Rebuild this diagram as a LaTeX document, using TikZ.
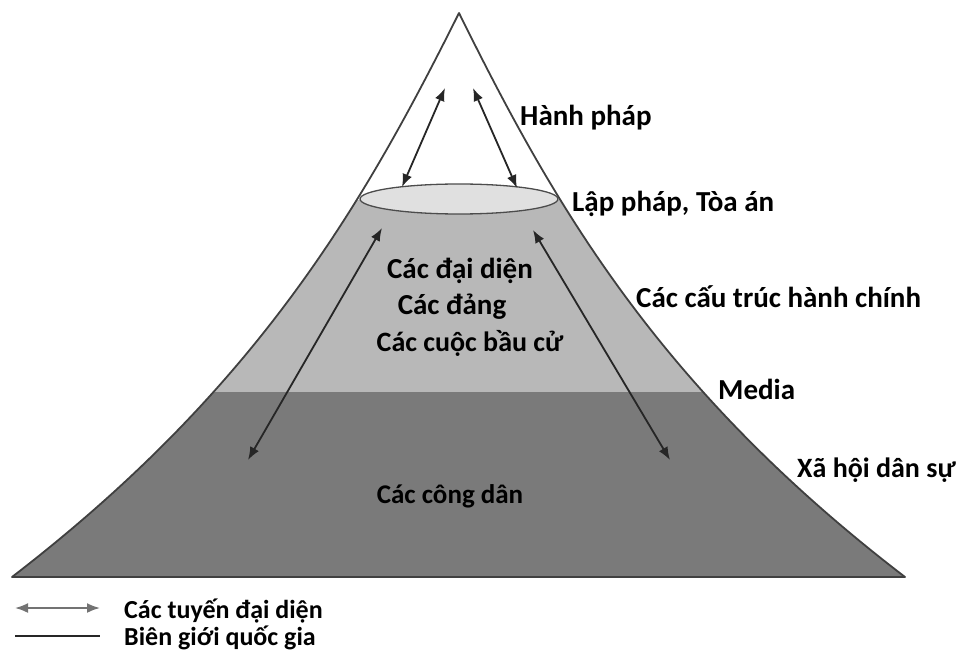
\documentclass[tikz,border=0pt]{standalone}
\usepackage{fontspec}
\setmainfont{Carlito}
\usetikzlibrary{arrows.meta}

\begin{document}
\begin{tikzpicture}[x=1pt, y=-1pt,
  lbl/.style={anchor=base west, inner sep=0pt, font=\fontsize{29}{34}\selectfont\bfseries},
  inlbl/.style={anchor=base, inner sep=0pt, font=\fontsize{29}{34}\selectfont\bfseries},
  link/.style={{Latex[length=13pt,width=10pt]}-{Latex[length=13pt,width=10pt]}, line width=1.8pt, black!85}]
\useasboundingbox (0,0) rectangle (966,660);
% mountain and its bands
\def\mountain{(459,13) .. controls (364,203) and (259,387) .. (12,577) -- (905,577) .. controls (657,387) and (553,203) .. (459,13) -- cycle}
\begin{scope}
\clip \mountain;
\fill[black!28] (0,200) rectangle (966,392);
\fill[black!52] (0,392) rectangle (966,577);
\end{scope}
\draw[line width=1.8pt, black!75, line join=round] \mountain;
\draw[black!70, line width=1.3pt, fill=black!12] (459,199) ellipse [x radius=99, y radius=15];

% ends of the links
\coordinate (tl1) at (402,187);
\coordinate (tl2) at (445,88);
\coordinate (tr1) at (473,88);
\coordinate (tr2) at (517,188);
\coordinate (bl1) at (382,228);
\coordinate (bl2) at (248,460);
\coordinate (br1) at (533,230);
\coordinate (br2) at (670,460);
\draw[link] (tl1) -- (tl2);
\draw[link] (tr1) -- (tr2);
\draw[link] (bl1) -- (bl2);
\draw[link] (br1) -- (br2);

% labels
\node[lbl] (exec) at (520,126) {Hành pháp};
\node[lbl] (legis) at (572,212) {Lập pháp, Tòa án};
\node[lbl] (admin) at (636,307) {Các cấu trúc hành chính};
\node[lbl] (media) at (718,399) {Media};
\node[lbl, font=\fontsize{28}{33}\selectfont\bfseries] (civil) at (797,477) {Xã hội dân sự};
\node[inlbl] (rep) at (460,279) {Các đại diện};
\node[inlbl] (party) at (452,314) {Các đảng};
\node[inlbl, font=\fontsize{28}{33}\selectfont\bfseries] (elect) at (470,351) {Các cuộc bầu cử};
\node[inlbl, font=\fontsize{27}{32}\selectfont\bfseries] (citiz) at (450,503) {Các công dân};

% legend
\coordinate (keyA) at (15,608);
\coordinate (keyB) at (100,608);
\coordinate (keyC) at (15,636);
\coordinate (keyD) at (100,636);
\draw[link, black!55] (keyA) -- (keyB);
\draw[line width=1.6pt, black!85] (keyC) -- (keyD);
\node[lbl, font=\fontsize{26}{30}\selectfont\bfseries] (keylink) at (124,618) {Các tuyến đại diện};
\node[lbl, font=\fontsize{26}{30}\selectfont\bfseries] (keyborder) at (124,645) {Biên giới quốc gia};
\end{tikzpicture}
\end{document}
